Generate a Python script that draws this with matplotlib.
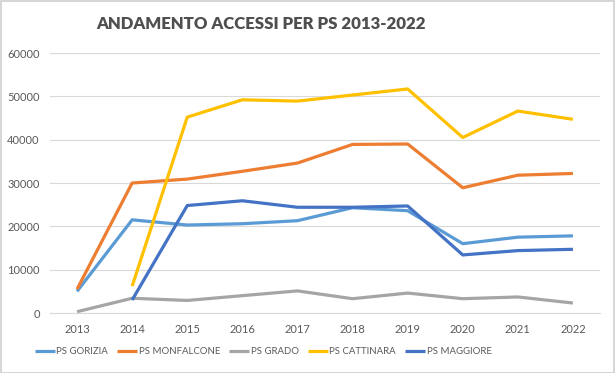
import numpy as np
import matplotlib.pyplot as plt
from matplotlib.patches import Rectangle

# data
years = ['2013', '2014', '2015', '2016', '2017', '2018', '2019', '2020', '2021', '2022']
gorizia = [5000, 21500, 20300, 20600, 21300, 24300, 23600, 16000, 17500, 17800]
monfalcone = [5500, 30000, 30900, 32700, 34600, 38900, 39000, 28900, 31800, 32200]
grado = [300, 3400, 2900, 4000, 5100, 3300, 4600, 3300, 3700, 2300]
cattinara = [np.nan, 6200, 45200, 49200, 48900, 50300, 51700, 40500, 46600, 44700]
maggiore = [np.nan, 3000, 24800, 25900, 24400, 24400, 24700, 13400, 14400, 14700]

series = [('PS GORIZIA', gorizia, '#5B9BD5'),
          ('PS MONFALCONE', monfalcone, '#ED7D31'),
          ('PS GRADO', grado, '#A5A5A5'),
          ('PS CATTINARA', cattinara, '#FFC000'),
          ('PS MAGGIORE', maggiore, '#4472C4')]

plt.rcParams['font.family'] = ['Lato', 'DejaVu Sans']

fig = plt.figure(figsize=(6.15, 3.73), dpi=100)
W, H = 615, 373
ax = fig.add_axes([49.5 / W, 1 - 313 / H, (600.5 - 49.5) / W, (313 - 53) / H])

x = np.arange(len(years))
for name, vals, col in series:
    ax.plot(x, vals, color=col, lw=2.3, label=name, solid_capstyle='butt')

ax.set_xlim(-0.5, len(years) - 0.5)
ax.set_ylim(0, 60000)
ax.set_yticks(range(0, 60001, 10000))
ax.set_xticks(x)
ax.set_xticklabels(years)
ax.grid(axis='y', color='#D9D9D9', lw=0.8)
ax.set_axisbelow(True)
for s in ['top', 'right', 'left']:
    ax.spines[s].set_visible(False)
ax.spines['bottom'].set_color('#D9D9D9')
ax.tick_params(length=0, colors='#595959', labelsize=8)
ax.tick_params(axis='x', pad=8)
ax.tick_params(axis='y', pad=7)

fig.text(261 / W, 1 - 24 / H, 'ANDAMENTO ACCESSI PER PS 2013-2022',
         ha='center', va='center', fontsize=12.1, fontweight='heavy', color='#4F4F4F')

fig.legend(loc='center', bbox_to_anchor=(263 / W, 1 - 352 / H), ncol=5,
           frameon=False, fontsize=6.9, handlelength=2.1, handletextpad=0.15,
           columnspacing=0.95, labelcolor='#595959')

fig.patches.append(Rectangle((0.5 / W, 0.5 / H), 1 - 1.5 / W, 1 - 1.5 / H,
                             transform=fig.transFigure, fill=False,
                             edgecolor='#D0D0D0', lw=1.2))

fig.savefig('out.png', dpi=100)
